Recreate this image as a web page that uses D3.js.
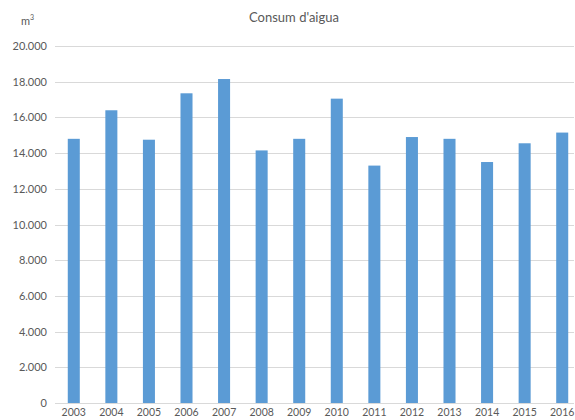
<!DOCTYPE html>
<html>
<head>
<meta charset="utf-8">
<script src="https://cdn.jsdelivr.net/npm/d3@7"></script>
<style>
  html, body { margin: 0; padding: 0; background: #fff; }
  svg { display: block; }
  text { font-family: Lato, "Open Sans", sans-serif; fill: #595959; }
</style>
</head>
<body>
<svg id="chart" width="575" height="420"></svg>
<script>
// Annual water consumption (m³)
const years = ["2003","2004","2005","2006","2007","2008","2009","2010","2011","2012","2013","2014","2015","2016"];
const consumption = [14800, 16400, 14750, 17350, 18150, 14150, 14800, 17050, 13300, 14900, 14800, 13500, 14550, 15150];
const yTicks = [0, 2000, 4000, 6000, 8000, 10000, 12000, 14000, 16000, 18000, 20000];

const svg = d3.select("#chart");
const plot = { left: 55, right: 581, top: 46, bottom: 403, gridRight: 574 };

const x = d3.scaleBand().domain(years).range([plot.left, plot.right]).paddingInner(0.68).paddingOuter(0.34);
const y = d3.scaleLinear().domain([0, 20000]).range([plot.bottom, plot.top]);

const fmt = v => d3.format(",")(v).replace(/,/g, ".");

// Horizontal gridlines
svg.append("g")
  .selectAll("line")
  .data(yTicks)
  .join("line")
  .attr("x1", plot.left)
  .attr("x2", plot.gridRight)
  .attr("y1", d => Math.round(y(d)) + 0.5)
  .attr("y2", d => Math.round(y(d)) + 0.5)
  .attr("stroke", "#d9d9d9")
  .attr("stroke-width", 1);

// Y axis labels
const yAxis = d3.axisLeft(y).tickValues(yTicks).tickFormat(fmt).tickSize(0).tickPadding(0);
svg.append("g")
  .attr("transform", `translate(${plot.left - 8},0)`)
  .call(yAxis)
  .call(g => g.select(".domain").remove())
  .call(g => g.selectAll("text").attr("font-size", 11).style("fill", "#595959")
    .style("font-family", "Lato, 'Open Sans', sans-serif"));

// Bars
svg.append("g")
  .selectAll("rect")
  .data(years.map((yr, i) => ({ yr, v: consumption[i] })))
  .join("rect")
  .attr("x", d => x(d.yr))
  .attr("width", x.bandwidth())
  .attr("y", d => y(d.v))
  .attr("height", d => y(0) - y(d.v))
  .attr("fill", "#5b9bd5");

// X axis labels (year labels near the bottom edge)
const xAxis = d3.axisBottom(x).tickSize(0).tickPadding(0);
svg.append("g")
  .attr("transform", `translate(0,${plot.bottom + 6})`)
  .call(xAxis)
  .call(g => g.select(".domain").remove())
  .call(g => g.selectAll("text").attr("font-size", 10.5).style("fill", "#595959")
    .style("font-family", "Lato, 'Open Sans', sans-serif"));

// Title
svg.append("text")
  .attr("x", 294)
  .attr("y", 22)
  .attr("text-anchor", "middle")
  .attr("font-size", 13)
  .text("Consum d'aigua");

// Unit label
const unit = svg.append("text")
  .attr("x", 21)
  .attr("y", 25)
  .attr("font-size", 11);
unit.append("tspan").text("m");
unit.append("tspan").attr("dy", -5).attr("font-size", 7).text("3");
</script>
</body>
</html>
